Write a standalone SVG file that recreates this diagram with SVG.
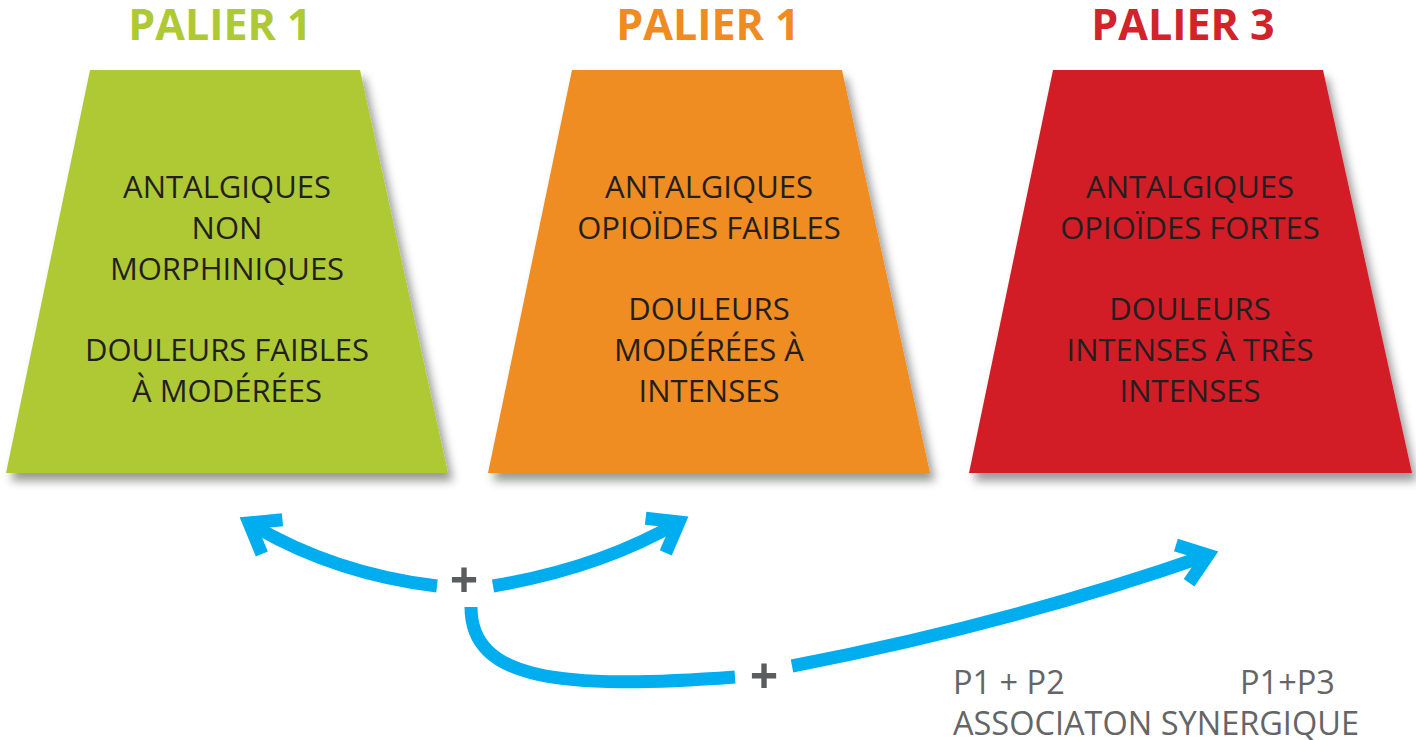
<svg xmlns="http://www.w3.org/2000/svg" width="1416" height="740" viewBox="0 0 1416 740">
<style>
.title{font-family:"Open Sans","Liberation Sans",sans-serif;font-weight:bold;font-size:43px;text-anchor:middle}
.body{font-family:"Open Sans","Liberation Sans",sans-serif;font-size:31px;fill:#231f20;text-anchor:middle}
.plus{font-family:"Open Sans","Liberation Sans",sans-serif;font-weight:bold;font-size:50px;fill:#5b5c5e;text-anchor:middle}
.note{font-family:"Open Sans","Liberation Sans",sans-serif;font-size:32.5px;fill:#646567}
.conn{fill:none;stroke:#00aeef;stroke-width:13}
</style>
<defs>
<filter id="sh" x="-10%" y="-10%" width="125%" height="125%">
<feDropShadow dx="5" dy="8" stdDeviation="5" flood-color="#000" flood-opacity="0.4"/>
</filter>
<marker id="ah" markerUnits="userSpaceOnUse" orient="auto" refX="0" refY="0" markerWidth="1" markerHeight="1" overflow="visible">
<polyline points="-27,-20 0,0 -27,20" fill="none" stroke="#00aeef" stroke-width="13" stroke-linejoin="miter" stroke-linecap="butt"/>
</marker>
</defs>
<rect width="1416" height="740" fill="#fff"/>
<g id="palier1">
<text class="title" x="220" y="40" fill="#afc936">PALIER 1</text>
<polygon points="90,70 360,70 448,473 6,473" fill="#afc936" filter="url(#sh)"/>
<text class="body" x="227" y="198">ANTALGIQUES</text>
<text class="body" x="227" y="239">NON</text>
<text class="body" x="227" y="280">MORPHINIQUES</text>
<text class="body" x="227" y="361">DOULEURS FAIBLES</text>
<text class="body" x="227" y="402">À MODÉRÉES</text>
</g>
<g id="palier2">
<text class="title" x="708" y="40" fill="#f08a22">PALIER 1</text>
<polygon points="572,70 842,70 930,473 488,473" fill="#ef8c22" filter="url(#sh)"/>
<text class="body" x="709" y="198">ANTALGIQUES</text>
<text class="body" x="709" y="239">OPIOÏDES FAIBLES</text>
<text class="body" x="709" y="320">DOULEURS</text>
<text class="body" x="709" y="361">MODÉRÉES À</text>
<text class="body" x="709" y="402">INTENSES</text>
</g>
<g id="palier3">
<text class="title" x="1183" y="40" fill="#d2232a">PALIER 3</text>
<polygon points="1053,70 1323,70 1412,473 969,473" fill="#d21f27" filter="url(#sh)"/>
<text class="body" x="1190" y="198">ANTALGIQUES</text>
<text class="body" x="1190" y="239">OPIOÏDES FORTES</text>
<text class="body" x="1190" y="320">DOULEURS</text>
<text class="body" x="1190" y="361">INTENSES À TRÈS</text>
<text class="body" x="1190" y="402">INTENSES</text>
</g>
<g id="connectors">
<path class="conn" d="M437,586 Q333,573.5 249,523" marker-end="url(#ah)"/>
<path class="conn" d="M493,586 Q600,568 679,522" marker-end="url(#ah)"/>
<path class="conn" d="M471,607 C471,680 560,690 735,677"/>
<path class="conn" d="M792,666 Q1010,624 1208,555" marker-end="url(#ah)"/>
</g>
<g id="plus1"><text class="plus" x="464" y="598">+</text></g>
<g id="plus2"><text class="plus" x="764" y="694">+</text></g>
<g id="legend">
<text class="note" x="953" y="694">P1 + P2</text>
<text class="note" x="1240" y="694">P1+P3</text>
<text class="note" x="953" y="735">ASSOCIATON SYNERGIQUE</text>
</g>
</svg>
